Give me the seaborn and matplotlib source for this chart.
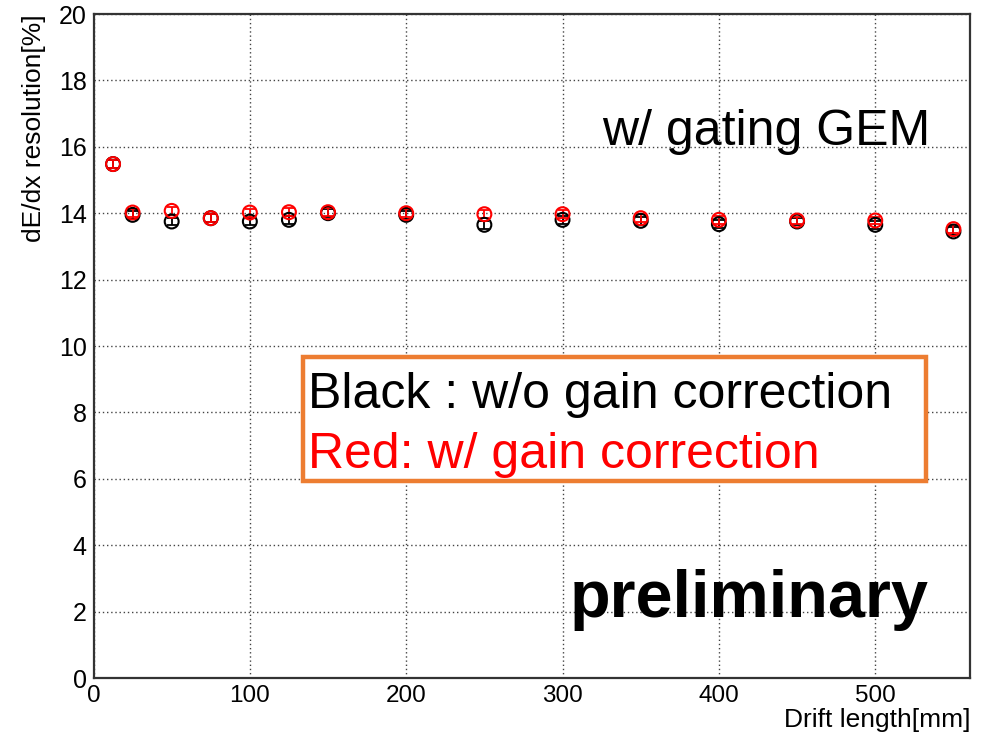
import numpy as np
import pandas as pd
import matplotlib
matplotlib.use("Agg")
import matplotlib.pyplot as plt
from matplotlib.ticker import MultipleLocator
from matplotlib.patches import Rectangle
import seaborn as sns

# ---- data ----
drift = [12.5, 25, 50, 75, 100, 125, 150, 200, 250, 300, 350, 400, 450, 500, 550]
res_black = [15.48, 13.95, 13.75, 13.85, 13.75, 13.80, 14.00, 13.95, 13.65, 13.80, 13.77, 13.67, 13.75, 13.65, 13.45]
res_red = [15.48, 14.02, 14.07, 13.85, 14.02, 14.03, 14.03, 14.00, 13.97, 13.97, 13.85, 13.80, 13.78, 13.78, 13.52]
err_black = [0.12] * len(drift)
err_red = [0.12] * len(drift)

xlabel = "Drift length[mm]"
ylabel = "dE/dx resolution[%]"
label_black = "Black : w/o gain correction"
label_red = "Red: w/ gain correction"
title_text = "w/ gating GEM"
prelim_text = "preliminary"

sns.set_style("white")
plt.rcParams["font.family"] = ["Liberation Sans", "DejaVu Sans"]
plt.rcParams["text.color"] = "black"
plt.rcParams["axes.labelcolor"] = "black"
plt.rcParams["xtick.color"] = "black"
plt.rcParams["ytick.color"] = "black"

df = pd.DataFrame({
    "drift": drift * 2,
    "res": res_black + res_red,
    "err": err_black + err_red,
    "series": ["black"] * len(drift) + ["red"] * len(drift),
})

fig = plt.figure(figsize=(9.84, 7.37), dpi=100)
ax = fig.add_axes([93.5 / 984, 1 - 678 / 737, (970 - 93.5) / 984, (678 - 14) / 737])

palette = {"black": "black", "red": "#ff0000"}
for s in ["black", "red"]:
    d = df[df["series"] == s]
    ax.errorbar(d["drift"], d["res"], yerr=d["err"], fmt="none",
                ecolor=palette[s], elinewidth=1.3, capsize=3.5, capthick=1.3, zorder=3)
    sns.scatterplot(data=d, x="drift", y="res", ax=ax, marker="o", s=100,
                    facecolors="none", edgecolor=palette[s], linewidth=1.5,
                    legend=False, zorder=4)

ax.set_xlim(0, 560.6)
ax.set_ylim(0, 20)
ax.xaxis.set_major_locator(MultipleLocator(100))
ax.xaxis.set_minor_locator(MultipleLocator(20))
ax.yaxis.set_major_locator(MultipleLocator(2))
ax.yaxis.set_minor_locator(MultipleLocator(0.5))

ax.grid(True, which="major", linestyle=(0, (1, 2)), color="#444444", linewidth=1.0)
ax.set_axisbelow(True)

for sp in ax.spines.values():
    sp.set_linewidth(1.6)
    sp.set_color("#333333")

ax.tick_params(axis="both", which="both", direction="in", color="#333333",
               labelcolor="black", top=False, right=False)
ax.tick_params(axis="y", which="major", length=19.5, width=1.4, pad=5, labelsize=18)
ax.tick_params(axis="y", which="minor", length=10, width=1.2)
ax.tick_params(axis="x", which="major", length=14.5, width=1.4, pad=5, labelsize=17.5)
ax.tick_params(axis="x", which="minor", length=7.5, width=1.2)

ax.set_xlabel(xlabel, fontsize=19)
ax.set_ylabel(ylabel, fontsize=19)
ax.xaxis.set_label_coords(1.0, (678 - 727) / 664)
ax.xaxis.label.set_horizontalalignment("right")
ax.xaxis.label.set_verticalalignment("baseline")
ax.yaxis.set_label_coords((46 - 93.5) / 876, 1.0)
ax.yaxis.label.set_horizontalalignment("right")

fig.text(602 / 984, 1 - 145 / 737, title_text, fontsize=36, ha="left", va="baseline")
fig.text(570 / 984, 1 - 617 / 737, prelim_text, fontsize=48, fontweight="bold",
         ha="left", va="baseline")

rect = Rectangle((303 / 984, 1 - 481 / 737), (926 - 303) / 984, (481 - 357) / 737,
                 transform=fig.transFigure, facecolor="white", edgecolor="#ED7D31",
                 linewidth=3.2, zorder=5)
fig.patches.append(rect)
fig.text(308 / 984, 1 - 408 / 737, label_black, fontsize=36, color="black",
         ha="left", va="baseline", zorder=6)
fig.text(308 / 984, 1 - 468 / 737, label_red, fontsize=36, color="#ff0000",
         ha="left", va="baseline", zorder=6)

fig.savefig("out.png", dpi=100, facecolor="white")
